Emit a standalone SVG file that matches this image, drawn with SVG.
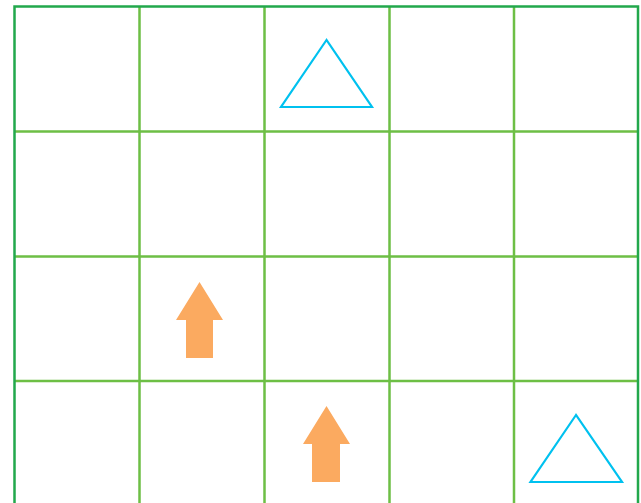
<svg xmlns="http://www.w3.org/2000/svg" width="641" height="503" viewBox="0 0 641 503">
<style>
.inner{stroke:#6dbf45;stroke-width:2.5;fill:none}
.outer{stroke:#22a84c;stroke-width:2.5;fill:none}
.tri{fill:none;stroke:#00c1ef;stroke-width:2.2;stroke-linejoin:miter}
.arrow{fill:#fbaa60}
</style>
<rect width="641" height="503" fill="#ffffff"/>
<g id="grid">
<path class="inner" d="M139.5 6V503M264.5 6V503M389.5 6V503M514 6V503M14.5 131.5H638M14.5 256.5H638M14.5 381H638"/>
<path class="outer" d="M14.5 503V6.5H638V503"/>
</g>
<g id="triangle1"><polygon class="tri" points="326.5,40 281,107 372,107"/></g>
<g id="triangle2"><polygon class="tri" points="576,415 530.5,482 622,482"/></g>
<g id="arrow1"><polygon class="arrow" points="199.5,282 223,320 213,320 213,358 186,358 186,320 176,320"/></g>
<g id="arrow2"><polygon class="arrow" points="326.5,406 350,444 340,444 340,482 312,482 312,444 303,444"/></g>
</svg>
